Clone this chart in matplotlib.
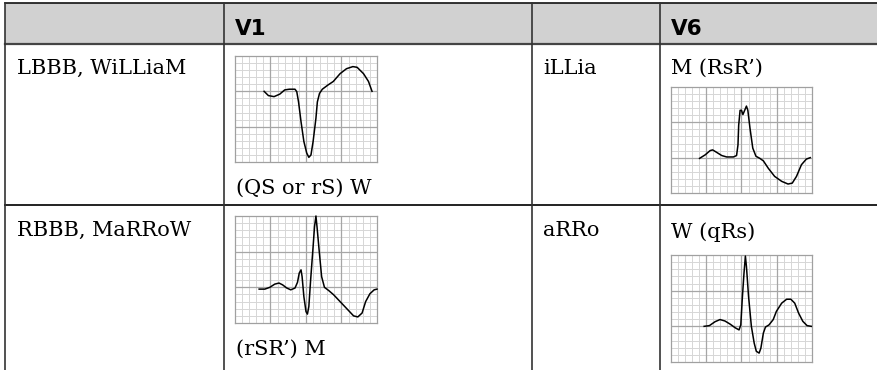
import numpy as np
import matplotlib
matplotlib.use('Agg')
import matplotlib.pyplot as plt

# column headers and cell texts
headers = ['', 'V1', '', 'V6']
row_labels = ['LBBB, WiLLiaM', 'RBBB, MaRRoW']
mid_labels = ['iLLia', 'aRRo']
v1_captions = ['(QS or rS) W', "(rSR\u2019) M"]
v6_captions = ['M (RsR\u2019)', 'W (qRs)']

# waveforms, in small grid squares (20 wide, 15 high)
lbbb_v1_x = [4.1, 4.7, 5.5, 6.3, 7.0, 7.65, 8.45, 8.7, 8.95, 9.3, 9.7, 10.1, 10.4, 10.7, 11.0, 11.4,
             11.6, 11.9, 12.3, 13.1, 13.85, 14.8, 15.7, 16.6, 17.2, 18.1, 18.8, 19.3]
lbbb_v1_y = [10.0, 9.4, 9.25, 9.6, 10.2, 10.3, 10.3, 9.95, 8.5, 5.7, 2.9, 1.27, 0.66, 1.0, 2.9, 6.2,
             8.5, 9.7, 10.3, 10.9, 11.4, 12.5, 13.2, 13.5, 13.4, 12.5, 11.4, 10.0]

lbbb_v6_x = [4.05, 4.85, 5.55, 5.9, 6.4, 7.2, 7.9, 8.85, 9.3, 9.5, 9.6, 9.8, 10.0, 10.2, 10.45, 10.7,
             10.9, 11.2, 11.6, 12.05, 12.6, 13.1, 13.8, 14.7, 15.7, 16.6, 17.2, 17.8, 18.5, 19.2, 19.75]
lbbb_v6_y = [4.9, 5.4, 6.0, 6.1, 5.8, 5.3, 5.1, 5.1, 5.3, 6.8, 9.6, 11.7, 11.7, 11.1, 11.7, 12.3,
             11.7, 9.2, 6.35, 5.2, 4.9, 4.55, 3.5, 2.35, 1.65, 1.27, 1.4, 2.35, 4.0, 4.8, 5.0]

rbbb_v1_x = [3.4, 4.2, 4.9, 5.6, 6.2, 6.7, 7.3, 7.85, 8.45, 8.8, 9.05, 9.3, 9.45, 9.7, 10.0, 10.2,
             10.4, 10.65, 11.0, 11.2, 11.4, 11.55, 11.85, 12.2, 12.6, 13.2, 13.9, 14.8, 15.8, 16.7,
             17.3, 17.9, 18.4, 19.0, 19.6, 20.0]
rbbb_v1_y = [4.75, 4.75, 5.0, 5.45, 5.6, 5.35, 4.9, 4.65, 4.9, 5.7, 7.0, 7.45, 6.5, 3.7, 1.6, 1.25,
             2.3, 6.0, 10.7, 13.5, 15.0, 13.5, 10.2, 6.5, 5.0, 4.55, 3.95, 3.0, 1.95, 1.0,
             0.85, 1.4, 3.0, 4.1, 4.65, 4.75]

rbbb_v6_x = [4.7, 5.45, 6.25, 6.95, 7.65, 8.4, 9.1, 9.65, 9.9, 10.1, 10.35, 10.55, 10.7, 11.0, 11.4,
             11.8, 12.1, 12.5, 12.75, 13.1, 13.4, 13.9, 14.5, 14.95, 15.7, 16.4, 17.0, 17.55, 18.1,
             18.7, 19.3, 19.9]
rbbb_v6_y = [5.0, 5.1, 5.65, 5.95, 5.75, 5.3, 4.8, 4.5, 5.2, 8.7, 12.4, 14.85, 13.4, 9.2, 5.0,
             2.65, 1.5, 1.25, 1.95, 4.05, 4.9, 5.2, 5.95, 7.1, 8.25, 8.8, 8.8, 8.25, 6.85,
             5.7, 5.1, 5.0]

W, H = 878, 370
fig = plt.figure(figsize=(W / 100, H / 100), dpi=100)
ax = fig.add_axes([0, 0, 1, 1])
ax.set_xlim(0, W)
ax.set_ylim(H, 0)
ax.axis('off')

col_x = [5, 224, 532, 660, W]
top, head_bot, row_sep = 3, 44, 205

# header band
ax.add_patch(plt.Rectangle((col_x[0], top), W - col_x[0], head_bot - top, color='#d1d1d1', lw=0))
ax.plot([col_x[0], W], [top, top], color='#111111', lw=1.2)
ax.plot([col_x[0], W], [head_bot, head_bot], color='#444444', lw=1.6)
ax.plot([col_x[0], W], [row_sep, row_sep], color='#222222', lw=1.4)
for cx in col_x[:-1]:
    ax.plot([cx, cx], [top, H], color='#333333', lw=1.2)

for i, h in enumerate(headers):
    if h:
        ax.text(col_x[i] + 11, 35, h, fontsize=15.5, family='DejaVu Sans', weight='heavy',
                va='baseline', ha='left', color='black')

serif = 'DejaVu Serif'
fs = 15
row_base = [74, 236]
for r in range(2):
    ax.text(17, row_base[r], row_labels[r], fontsize=fs, family=serif, va='baseline')
    ax.text(543, row_base[r], mid_labels[r], fontsize=fs, family=serif, va='baseline')
ax.text(236, 194, v1_captions[0], fontsize=fs, family=serif, va='baseline')
ax.text(236, 355, v1_captions[1], fontsize=fs, family=serif, va='baseline')
ax.text(671, 74, v6_captions[0], fontsize=fs, family=serif, va='baseline')
ax.text(671, 238, v6_captions[1], fontsize=fs, family=serif, va='baseline')


def ecg(box, xs, ys):
    x0, y0, x1, y1 = box
    a = fig.add_axes([x0 / W, 1 - y1 / H, (x1 - x0) / W, (y1 - y0) / H])
    a.set_xlim(0, 20)
    a.set_ylim(0, 15)
    for v in range(1, 20):
        major = v % 5 == 0
        a.axvline(v, color='#a6a6a6' if major else '#d6d6d6', lw=0.9 if major else 0.7, zorder=1 if major else 0)
    for v in range(1, 15):
        major = v % 5 == 0
        a.axhline(v, color='#a6a6a6' if major else '#d6d6d6', lw=0.9 if major else 0.7, zorder=1 if major else 0)
    a.plot(xs, ys, color='black', lw=1.1, solid_joinstyle='round', zorder=3, clip_on=False)
    a.set_xticks([])
    a.set_yticks([])
    for s in a.spines.values():
        s.set_color('#a0a0a0')
        s.set_linewidth(0.9)


ecg((235, 56, 377, 162), lbbb_v1_x, lbbb_v1_y)
ecg((671, 87, 812, 193), lbbb_v6_x, lbbb_v6_y)
ecg((235, 216, 377, 323), rbbb_v1_x, rbbb_v1_y)
ecg((671, 255, 812, 362), rbbb_v6_x, rbbb_v6_y)

fig.savefig('out.png', dpi=100)
